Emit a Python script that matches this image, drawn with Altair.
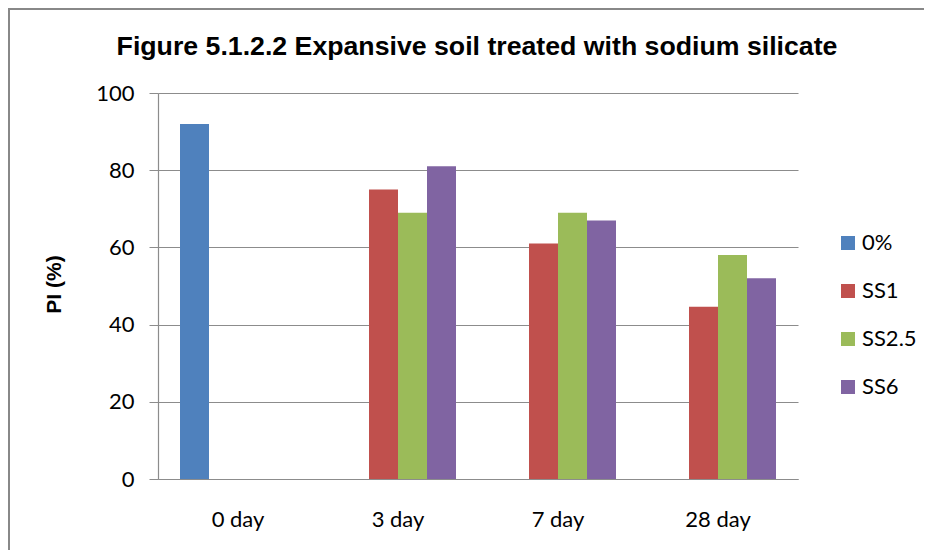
import altair as alt
import pandas as pd

days = ["0 day", "3 day", "7 day", "28 day"]
series = ["0%", "SS1", "SS2.5", "SS6"]
colors = ["#4F81BD", "#C0504D", "#9BBB59", "#8064A2"]
v_0pct = [92, None, None, None]
v_ss1 = [None, 75, 61, 44.6]
v_ss25 = [None, 69, 69, 58]
v_ss6 = [None, 81, 67, 52]
y_ticks = [0, 20, 40, 60, 80, 100]
title_text = ["Figure 5.1.2.2 Expansive soil treated with sodium silicate"]

rows = []
for s, vals in zip(series, [v_0pct, v_ss1, v_ss25, v_ss6]):
    for d, v in zip(days, vals):
        if v is not None:
            rows.append({"day": d, "series": s, "PI": v})
df = pd.DataFrame(rows)

W, H = 640, 386
GRID = "#8C8C8C"
LABEL_FONT = "Lato"

bars = alt.Chart(df).mark_bar().encode(
    x=alt.X("day:N", sort=days,
            scale=alt.Scale(paddingInner=0.275, paddingOuter=0.1375),
            axis=alt.Axis(title=None, labelAngle=0, ticks=False, labelPadding=30,
                          labelFont=LABEL_FONT, labelFontSize=22, labelColor="#000000",
                          domainColor=GRID, domainWidth=1.2, grid=False)),
    xOffset=alt.XOffset("series:N", sort=series,
                        scale=alt.Scale(domain=series, paddingInner=0, paddingOuter=0)),
    y=alt.Y("PI:Q", scale=alt.Scale(domain=[0, 100], nice=False),
            axis=alt.Axis(values=y_ticks, title="PI (%)", titleFont="Liberation Sans",
                          titleFontWeight="bold", titleFontSize=21, titleColor="#000000",
                          titleAngle=270, titleX=-104, titleY=H / 2 - 2, titleAlign="center",
                          titleBaseline="middle",
                          labelFont=LABEL_FONT, labelFontSize=22, labelColor="#000000",
                          labelPadding=15, tickSize=9, tickColor=GRID, domainColor=GRID,
                          domainWidth=1.2, gridColor=GRID, gridWidth=1.2)),
    color=alt.Color("series:N", sort=series,
                    scale=alt.Scale(domain=series, range=colors),
                    legend=alt.Legend(title=None, orient="none", legendX=679, legendY=139,
                                      symbolType="square", symbolSize=196, symbolStrokeWidth=0,
                                      labelFont=LABEL_FONT, labelFontSize=22,
                                      labelColor="#000000", labelOffset=3, rowPadding=26,
                                      padding=0)),
)

frame = pd.DataFrame({"k": [0]})
border_top = alt.Chart(frame).mark_rule(color="#888888", strokeWidth=2).encode(
    x=alt.value(-150), x2=alt.value(1000), y=alt.value(-84)
)
border_left = alt.Chart(frame).mark_rule(color="#888888", strokeWidth=2).encode(
    x=alt.value(-149), y=alt.value(-85), y2=alt.value(600)
)

title = alt.Chart(pd.DataFrame({"t": title_text})).mark_text(
    font="Liberation Sans", fontSize=26.7, fontWeight="bold", color="#000000",
    align="center", baseline="alphabetic"
).encode(text="t:N", x=alt.value(W / 2 - 1), y=alt.value(-38))

chart = alt.layer(border_top, border_left, bars, title).properties(
    width=W, height=H,
    padding={"left": 150, "top": 85, "right": 126, "bottom": 71},
    autosize=alt.AutoSizeParams(type="none"),
    background="white",
).configure_view(strokeWidth=0)

chart.save("out.html", embed_options={"renderer": "svg", "actions": False})
